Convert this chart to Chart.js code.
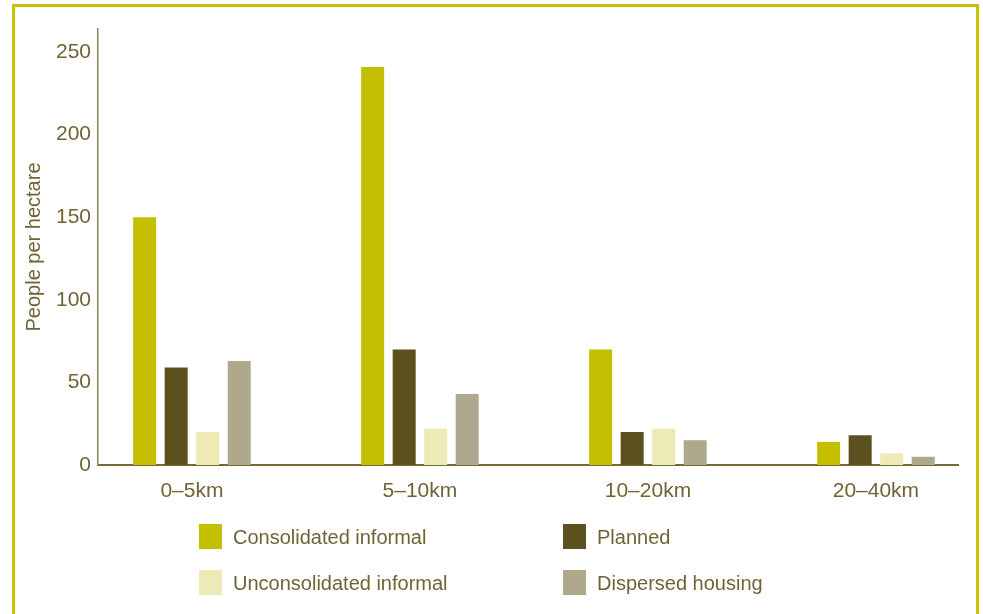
<!DOCTYPE html>
<html>
<head>
<meta charset="utf-8">
<script src="https://cdn.jsdelivr.net/npm/chart.js@4/dist/chart.umd.min.js"></script>
<style>
  body { margin: 0; background: #fff; font-family: "Liberation Sans", Arial, sans-serif; }
  #wrap { position: relative; width: 983px; height: 614px; overflow: hidden; }
  #frame {
    position: absolute; left: 12px; top: 4px; width: 961px; height: 640px;
    border: 3px solid #c8c300;
  }
  #myChart { position: absolute; left: 0; top: 0; }
  #legend { position: absolute; left: 199px; top: 524px; }
  .item { position: absolute; white-space: nowrap; color: #6f6436; font-size: 20px; }
  .item span.box { position: absolute; left: 0; top: 0; width: 23px; height: 25px; }
  .item span.txt { position: absolute; left: 34px; top: 2px; }
</style>
</head>
<body>
<div id="wrap">
  <div id="frame"></div>
  <canvas id="myChart" width="983" height="614"></canvas>
  <div id="legend"></div>
</div>
<script>
const distances = ["0–5km", "5–10km", "10–20km", "20–40km"];
const seriesNames = ["Consolidated informal", "Planned", "Unconsolidated informal", "Dispersed housing"];
const seriesColors = ["#c4bf00", "#5c501e", "#eeeab5", "#aea98c"];

const consolidated = [150, 241, 70, 14];
const planned = [59, 70, 20, 18];
const unconsolidated = [20, 22, 22, 7];
const dispersed = [63, 43, 15, 5];

const yTicks = [0, 50, 100, 150, 200, 250];

const textColor = "#6f6436";
const allSeries = [consolidated, planned, unconsolidated, dispersed];

const datasets = [];
for (let i = 0; i < allSeries.length; i++) {
  datasets.push({
    label: seriesNames[i],
    data: allSeries[i].map((v, j) => ({ x: j, y: v })),
    backgroundColor: seriesColors[i],
    borderWidth: 0,
    categoryPercentage: 0.553,
    barPercentage: 0.73,
  });
}

const ctx = document.getElementById("myChart");

new Chart(ctx, {
  type: "bar",
  data: { datasets: datasets },
  options: {
    responsive: false,
    animation: false,
    layout: { padding: { left: 20, right: 25, top: 29, bottom: 99 } },
    plugins: {
      legend: { display: false },
      tooltip: { enabled: false },
    },
    scales: {
      x: {
        type: "linear",
        offset: false,
        min: -0.412,
        max: 3.36,
        grid: { display: false, drawTicks: false },
        border: { color: "#756a36", width: 2 },
        afterBuildTicks: (scale) => {
          scale.ticks = distances.map((d, i) => ({ value: i }));
        },
        afterFit: (scale) => { scale.height = 50; },
        ticks: {
          color: textColor,
          font: { family: "'Liberation Sans', Arial, sans-serif", size: 21 },
          padding: 14,
          maxRotation: 0,
          callback: (v) => distances[v],
        },
      },
      y: {
        min: 0,
        max: 264,
        grid: { display: false, drawTicks: false },
        border: { color: "#8a815e", width: 1.5 },
        afterBuildTicks: (scale) => {
          scale.ticks = yTicks.map((v) => ({ value: v }));
        },
        afterFit: (scale) => { scale.width = 78; },
        ticks: {
          color: textColor,
          font: { family: "'Liberation Sans', Arial, sans-serif", size: 21 },
          padding: 7,
        },
        title: {
          display: true,
          text: "People per hectare",
          color: textColor,
          font: { family: "'Liberation Sans', Arial, sans-serif", size: 20 },
          padding: { top: 2, bottom: 0 },
        },
      },
    },
  },
});

// two-column legend under the plot
const legend = document.getElementById("legend");
const colX = [0, 364];
const rowY = [0, 46];
for (let i = 0; i < seriesNames.length; i++) {
  const item = document.createElement("div");
  item.className = "item";
  item.style.left = colX[i % 2] + "px";
  item.style.top = rowY[Math.floor(i / 2)] + "px";
  item.innerHTML = '<span class="box" style="background:' + seriesColors[i] + '"></span>' +
    '<span class="txt">' + seriesNames[i] + "</span>";
  legend.appendChild(item);
}
</script>
</body>
</html>
